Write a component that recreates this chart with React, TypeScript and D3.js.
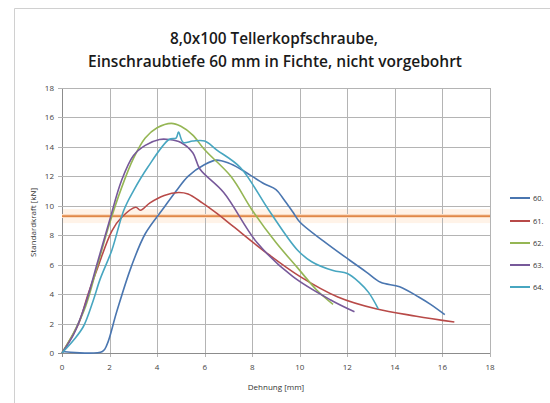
import { useEffect, useRef } from "react";
import * as d3 from "d3";

type Pt = [number, number];

const title1 = "8,0x100 Tellerkopfschraube,";
const title2 = "Einschraubtiefe 60 mm in Fichte, nicht vorgebohrt";
const xLabel = "Dehnung [mm]";
const yLabel = "Standardkraft [kN]";
const xTicks = [0, 2, 4, 6, 8, 10, 12, 14, 16, 18];
const yTicks = [0, 2, 4, 6, 8, 10, 12, 14, 16, 18];
const seriesNames = ["60.", "61.", "62.", "63.", "64."];
const seriesColors = ["#4a76b0", "#b84a48", "#95b654", "#77599a", "#47a6c0"];
const limitValue = 9.3;

const s60: Pt[] = [
  [0, 0.1], [1.7, 0.1], [1.9, 0.6], [2.3, 2.8], [2.9, 5.8], [3.5, 8.1],
  [4.3, 9.9], [4.8, 11.0], [5.3, 12.0], [6.0, 12.8], [6.5, 13.1], [7.0, 12.9],
  [7.5, 12.5], [7.9, 12.1], [8.5, 11.5], [9.0, 11.1], [9.3, 10.5], [9.7, 9.6],
  [10.0, 8.9], [11.0, 7.6], [12.1, 6.3], [12.8, 5.5], [13.4, 4.8], [14.2, 4.5],
  [15.0, 3.8], [15.5, 3.3], [16.1, 2.6],
];
const s61: Pt[] = [
  [0, 0], [0.3, 0.8], [0.7, 2.0], [1.1, 4.0], [1.5, 5.8], [2.1, 8.3],
  [2.5, 9.2], [3.1, 9.9], [3.3, 9.7], [3.7, 10.2], [4.3, 10.7], [4.9, 10.9],
  [5.3, 10.8], [5.9, 10.2], [6.5, 9.5], [7.2, 8.6], [8.6, 6.8], [10.0, 5.2],
  [11.6, 3.8], [13.2, 3.0], [14.9, 2.5], [16.5, 2.1],
];
const s62: Pt[] = [
  [0, 0], [0.5, 1.4], [1.0, 3.2], [1.5, 6.0], [2.0, 8.8], [2.5, 11.2],
  [3.0, 13.2], [3.5, 14.6], [4.0, 15.3], [4.6, 15.6], [5.0, 15.4], [5.5, 14.8],
  [6.0, 13.8], [7.1, 12.0], [8.0, 9.7], [9.0, 7.5], [9.9, 5.8], [10.7, 4.3],
  [11.4, 3.3],
];
const s63: Pt[] = [
  [0, 0], [0.5, 1.3], [1.0, 3.4], [1.5, 6.2], [2.0, 9.0], [2.5, 11.7],
  [3.0, 13.4], [3.5, 14.1], [4.1, 14.5], [4.5, 14.5], [5.0, 14.3], [5.5, 13.6],
  [5.8, 12.5], [6.8, 10.9], [8.2, 7.5], [9.7, 5.2], [11.3, 3.6], [12.3, 2.8],
];
const s64: Pt[] = [
  [0, 0], [0.5, 0.9], [0.9, 1.8], [1.3, 3.5], [1.6, 5.0], [2.1, 7.0],
  [2.6, 9.7], [3.0, 11.0], [3.6, 12.6], [4.5, 14.5], [4.8, 14.6], [4.9, 15.0],
  [5.1, 14.3], [5.5, 14.4], [6.0, 14.4], [6.5, 13.8], [7.5, 12.6], [8.7, 9.7],
  [9.9, 7.0], [10.5, 6.2], [11.4, 5.6], [12.0, 5.4], [12.5, 4.8], [12.9, 4.1],
  [13.3, 3.0],
];
const allSeries = [s60, s61, s62, s63, s64];

export default function App() {
  const svgRef = useRef<SVGSVGElement>(null);

  useEffect(() => {
    if (!svgRef.current) return;
    const width = 550;
    const height = 403;
    const svg = d3.select(svgRef.current);
    svg.selectAll("*").remove();
    svg.attr("width", width).attr("height", height);

    const font = "'Open Sans', 'Liberation Sans', sans-serif";

    svg.append("rect").attr("width", width).attr("height", height).attr("fill", "#fff");

    // outer frame
    svg.append("path")
      .attr("d", `M14.5,${height} L14.5,8.5 L${width},8.5`)
      .attr("fill", "none")
      .attr("stroke", "#d0d0d0");

    const x = d3.scaleLinear().domain([0, 18]).range([62, 490]);
    const y = d3.scaleLinear().domain([0, 18]).range([353, 88]);

    // limit band (soft glow behind the grid)
    svg.append("rect")
      .attr("x", x(0)).attr("width", x(18) - x(0))
      .attr("y", y(limitValue) - 7).attr("height", 14)
      .attr("fill", "#fff3e8");

    // grid
    const grid = svg.append("g");
    xTicks.forEach((t) => {
      grid.append("line")
        .attr("x1", Math.round(x(t)) + 0.5).attr("x2", Math.round(x(t)) + 0.5)
        .attr("y1", y(18)).attr("y2", y(0) + 4)
        .attr("stroke", t === 0 ? "#8c8c8c" : "#b4b4b4");
    });
    yTicks.forEach((t) => {
      grid.append("line")
        .attr("x1", x(0) - 4).attr("x2", x(18))
        .attr("y1", Math.round(y(t)) + 0.5).attr("y2", Math.round(y(t)) + 0.5)
        .attr("stroke", t === 0 ? "#8c8c8c" : "#b4b4b4");
    });

    // tick labels
    svg.append("g").selectAll("text").data(yTicks).enter().append("text")
      .attr("x", x(0) - 8).attr("y", (d) => y(d) + 3)
      .attr("text-anchor", "end").attr("font-family", font).attr("font-size", 8)
      .attr("fill", "#444").text((d) => d);
    svg.append("g").selectAll("text").data(xTicks).enter().append("text")
      .attr("x", (d) => x(d)).attr("y", y(0) + 17)
      .attr("text-anchor", "middle").attr("font-family", font).attr("font-size", 8)
      .attr("fill", "#444").text((d) => d);

    // axis titles
    svg.append("text")
      .attr("transform", `translate(36,${(y(0) + y(18)) / 2 + 2}) rotate(-90)`)
      .attr("text-anchor", "middle").attr("font-family", font).attr("font-size", 8)
      .attr("fill", "#333").text(yLabel);
    svg.append("text")
      .attr("x", (x(0) + x(18)) / 2).attr("y", 390)
      .attr("text-anchor", "middle").attr("font-family", font).attr("font-size", 8)
      .attr("fill", "#333").text(xLabel);

    // title
    svg.append("text")
      .attr("x", 274).attr("y", 44).attr("text-anchor", "middle")
      .attr("font-family", font).attr("font-size", 16).attr("font-weight", 600)
      .attr("fill", "#1a1a1a").attr("textLength", 208).attr("lengthAdjust", "spacingAndGlyphs")
      .text(title1);
    svg.append("text")
      .attr("x", 275).attr("y", 67).attr("text-anchor", "middle")
      .attr("font-family", font).attr("font-size", 16).attr("font-weight", 600)
      .attr("fill", "#1a1a1a").attr("textLength", 374).attr("lengthAdjust", "spacingAndGlyphs")
      .text(title2);

    // limit line
    svg.append("line")
      .attr("x1", x(0)).attr("x2", x(18)).attr("y1", y(limitValue)).attr("y2", y(limitValue))
      .attr("stroke", "#fbdcc2").attr("stroke-width", 4);
    svg.append("line")
      .attr("x1", x(0)).attr("x2", x(18)).attr("y1", y(limitValue)).attr("y2", y(limitValue))
      .attr("stroke", "#e08848").attr("stroke-width", 1.6);

    const line = d3.line<Pt>()
      .x((d) => x(d[0]))
      .y((d) => y(d[1]))
      .curve(d3.curveCatmullRom.alpha(0.5));

    allSeries.forEach((s, i) => {
      svg.append("path")
        .attr("d", line(s) ?? "")
        .attr("fill", "none")
        .attr("stroke", seriesColors[i])
        .attr("stroke-width", 1.6)
        .attr("stroke-linejoin", "round");
    });

    // legend
    const legendY = [198, 221, 243, 265, 287];
    seriesNames.forEach((name, i) => {
      svg.append("line")
        .attr("x1", 510).attr("x2", 530).attr("y1", legendY[i]).attr("y2", legendY[i])
        .attr("stroke", seriesColors[i]).attr("stroke-width", 2);
      svg.append("text")
        .attr("x", 533).attr("y", legendY[i] + 3)
        .attr("font-family", font).attr("font-size", 7.5).attr("fill", "#333")
        .text(name);
    });
  }, []);

  return (
    <div style={{ position: "absolute", left: 0, top: 0 }}>
      <svg ref={svgRef} style={{ display: "block" }}></svg>
    </div>
  );
}
